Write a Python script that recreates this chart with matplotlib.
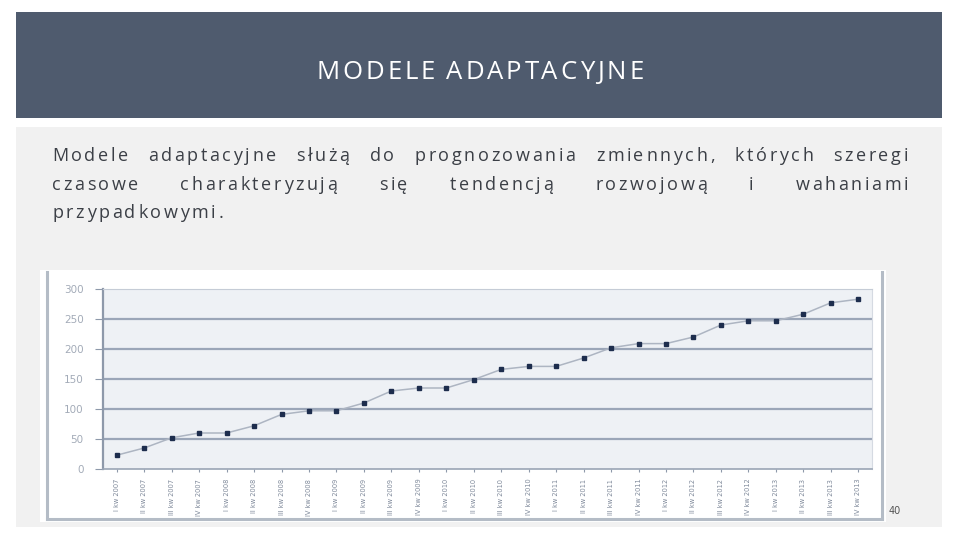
import matplotlib
matplotlib.use("Agg")
import matplotlib.pyplot as plt
from matplotlib.patches import Rectangle
from matplotlib.lines import Line2D

# ---- data ----
years = [2007, 2008, 2009, 2010, 2011, 2012, 2013]
quarters = ["I", "II", "III", "IV"]
categories = [f"{q} kw {y}" for y in years for q in quarters]
values = [23, 35, 52, 60, 60, 72, 91, 97, 97, 110, 130, 135, 135, 149,
          166, 171, 171, 185, 202, 209, 209, 220, 240, 247, 247, 258, 277, 283]
yticks = [0, 50, 100, 150, 200, 250, 300]

title = "MODELE ADAPTACYJNE"
body_lines = [
    "Modele adaptacyjne służą do prognozowania zmiennych, których szeregi",
    "czasowe charakteryzują się tendencją rozwojową i wahaniami",
    "przypadkowymi.",
]
page_no = "40"

W, H = 960, 540
fig = plt.figure(figsize=(9.6, 5.4), dpi=100)
fig.patch.set_facecolor("white")
renderer = fig.canvas.get_renderer()


def px(x0, y0, x1, y1):
    return [x0 / W, 1 - y1 / H, (x1 - x0) / W, (y1 - y0) / H]


def spaced_line(text, x0, yy, fs, color, ls, x1=None, space_w=None,
                family="Open Sans", center=None):
    """Draw a letter-spaced line; justify between x0 and x1 if given."""
    words = text.split(" ")

    def adv(ch):
        t1 = fig.text(0, 0, "|" + ch + "|", fontsize=fs, family=family)
        t2 = fig.text(0, 0, "||", fontsize=fs, family=family)
        w = t1.get_window_extent(renderer).width - t2.get_window_extent(renderer).width
        t1.remove(); t2.remove()
        return w

    word_objs, char_adv, word_w = [], [], []
    for w in words:
        objs = [fig.text(0, 1 - yy / H, ch, ha="left", va="baseline", color=color,
                         fontsize=fs, family=family, zorder=3) for ch in w]
        a = [adv(ch) + ls for ch in w]
        word_objs.append(objs)
        char_adv.append(a)
        word_w.append(sum(a) - ls)
    if x1 is not None and len(words) > 1:
        gap = (x1 - x0 - sum(word_w)) / (len(words) - 1)
    else:
        gap = space_w + 2 * ls
    if center is not None:
        total = sum(word_w) + gap * (len(words) - 1)
        x0 = center - total / 2
    x = x0
    for objs, a, ww in zip(word_objs, char_adv, word_w):
        xx = x
        for o, aa in zip(objs, a):
            o.set_x(xx / W)
            xx += aa
        x += ww + gap


# background panels
fig.patches.append(Rectangle((16 / W, 1 - 527 / H), 926 / W, 400 / H,
                             transform=fig.transFigure, facecolor="#f1f1f1",
                             edgecolor="none", zorder=-3))
fig.patches.append(Rectangle((16 / W, 1 - 118 / H), 926 / W, 106 / H,
                             transform=fig.transFigure, facecolor="#4f5b6e",
                             edgecolor="none", zorder=-3))
fig.patches.append(Rectangle((40 / W, 1 - 522 / H), 846 / W, 252 / H,
                             transform=fig.transFigure, facecolor="white",
                             edgecolor="none", zorder=-2))
for (x0, y0, x1, y1) in [(47, 272, 47, 519), (882, 272, 882, 519), (47, 519, 882, 519)]:
    fig.lines.append(Line2D([x0 / W, x1 / W], [1 - y0 / H, 1 - y1 / H],
                            transform=fig.transFigure, color="#b4bcc6", lw=2.2, zorder=-1))

# title (letter-spaced, centred)
spaced_line(title, 311, 79, 18.5, "white", 2.9, space_w=5, center=480)

# justified, letter-spaced body text
fs_body = 13.0
line_base = [161, 190, 218]
col = "#3b3f46"
spaced_line(body_lines[0], 52, line_base[0], fs_body, col, 2.6, x1=908)
spaced_line(body_lines[1], 52, line_base[1], fs_body, col, 2.6, x1=908)
spaced_line(body_lines[2], 52, line_base[2], fs_body, col, 2.6, space_w=5)

fig.text(895 / W, 1 - 511 / H, page_no, ha="center", va="center",
         color="#555555", fontsize=7, family="DejaVu Sans")

# chart
ax = fig.add_axes(px(103, 289, 872, 469))
ax.set_zorder(5)
ax.set_facecolor("#eef1f5")
xs = list(range(len(values)))
ax.plot(xs, values, color="#adb5c2", lw=1.1, marker="s", markersize=3,
        markerfacecolor="#1d2d4d", markeredgecolor="#1d2d4d", zorder=3)
ax.set_xlim(-0.5, len(values) - 0.5)
ax.set_ylim(0, 300)
ax.set_yticks(yticks)
ax.set_yticklabels([str(v) for v in yticks], color="#a3abb8", fontsize=7.5)
for v in yticks[1:-1]:
    ax.axhline(v, color="#9ba6b8", lw=1.6, zorder=1)
ax.set_xticks(xs)
ax.set_xticklabels(categories, rotation=90, fontsize=4.8, color="#7f899a")
ax.tick_params(axis="y", length=6, color="#8e99aa", pad=8)
ax.tick_params(axis="x", length=2, color="#8e99aa", pad=5)
ax.spines["left"].set_color("#8e99aa")
ax.spines["left"].set_linewidth(1.6)
ax.spines["bottom"].set_color("#9aa5b5")
ax.spines["bottom"].set_linewidth(1.2)
ax.spines["top"].set_color("#c5ccd6")
ax.spines["top"].set_linewidth(0.8)
ax.spines["right"].set_color("#d5dae2")
ax.spines["right"].set_linewidth(0.8)

fig.savefig("out.png", dpi=100)
